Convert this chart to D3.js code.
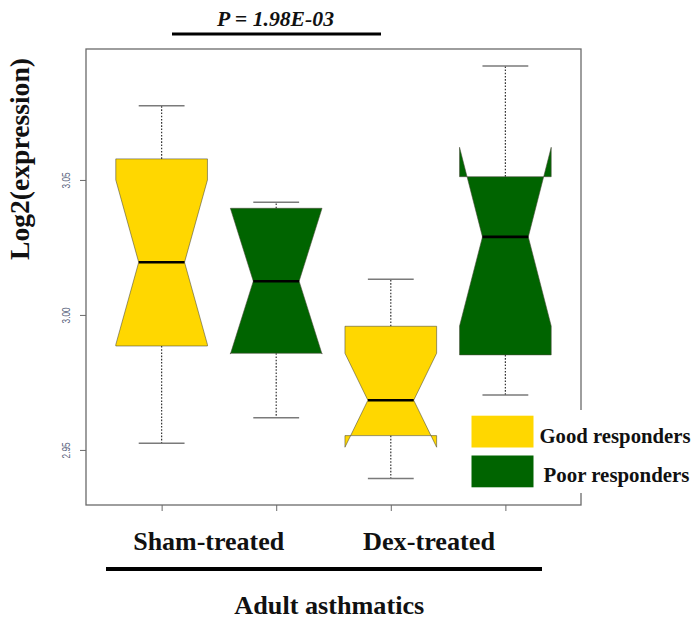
<!DOCTYPE html>
<html>
<head>
<meta charset="utf-8">
<script src="https://cdn.jsdelivr.net/npm/d3@7"></script>
<style>
  html, body { margin: 0; padding: 0; background: #fff; }
  svg { display: block; }
</style>
</head>
<body>
<svg id="chart" width="694" height="622"></svg>
<script>
// Treatment groups and responder classes
const groups = ["Sham-treated", "Dex-treated"];
const responders = ["Good responders", "Poor responders"];

// One box per group x responder, in drawing order
const boxGroup     = [0, 0, 1, 1];
const boxResponder = [0, 1, 0, 1];

// Five-number summaries (log2 expression)
const whiskerLow  = [2.9525, 2.9619, 2.9394, 2.9703];
const q1          = [2.9885, 2.9858, 2.9553, 2.9852];
const median      = [3.0195, 3.0125, 2.9684, 3.0289];
const q3          = [3.0578, 3.0395, 2.9958, 3.0512];
const whiskerHigh = [3.0775, 3.0417, 3.0132, 3.0922];

// Notch (median confidence interval) limits
const notchLow  = [2.9890, 2.9855, 2.9510, 2.9959];
const notchHigh = [3.0500, 3.0395, 2.9858, 3.0621];

// Axis ticks
const yTicks = [2.95, 3.00, 3.05];
const yTickLabels = ["2.95", "3.00", "3.05"];
const xTicks = [1, 2, 3, 4];

const pValueLabel = "P = 1.98E-03";
const yTitle = "Log2(expression)";
const xTitle = "Adult asthmatics";

const fillColors = ["#FFD700", "#006400"];
const serif = "'Liberation Serif', 'DejaVu Serif', serif";

const svg = d3.select("#chart");

// Plot region
const frame = { left: 86, right: 581, top: 49, bottom: 505 };

const x = d3.scaleLinear().domain([0.34, 4.66]).range([frame.left, frame.right]);
const y = d3.scaleLinear().domain([2.9296, 3.0985]).range([frame.bottom, frame.top]);

const boxHalf = (x(1.8) - x(1)) / 2;   // half of a 0.8-wide box

// Fit a text element to a target pixel width by scaling its font size
function fitWidth(sel, target) {
  const node = sel.node();
  const fs = parseFloat(sel.attr("font-size"));
  const w = node.getComputedTextLength();
  if (w > 0) sel.attr("font-size", (fs * target / w).toFixed(2));
  return sel;
}

// Frame
svg.append("rect")
  .attr("x", frame.left).attr("y", frame.top)
  .attr("width", frame.right - frame.left)
  .attr("height", frame.bottom - frame.top)
  .attr("fill", "none")
  .attr("stroke", "#6a6a6a")
  .attr("stroke-width", 1.3);

// Y axis
const yAxis = svg.append("g")
  .attr("transform", `translate(${frame.left},0)`)
  .call(d3.axisLeft(y).tickValues(yTicks).tickSize(6).tickFormat((d, i) => yTickLabels[i]));
yAxis.select(".domain").remove();
yAxis.selectAll(".tick line").attr("stroke", "#6a6a6a").attr("stroke-width", 1);
yAxis.selectAll(".tick text")
  .attr("transform", "rotate(-90)")
  .attr("x", 0).attr("y", -16.5)
  .attr("dy", 0)
  .attr("text-anchor", "middle")
  .attr("font-family", "'Liberation Sans Narrow', 'Liberation Sans', Arial, sans-serif")
  .attr("font-size", 11)
  .attr("fill", "#56607a")
  .attr("textLength", 16)
  .attr("lengthAdjust", "spacingAndGlyphs");

// X axis ticks (no labels on ticks)
const xAxis = svg.append("g")
  .attr("transform", `translate(0,${frame.bottom})`)
  .call(d3.axisBottom(x).tickValues(xTicks).tickSize(6).tickFormat(""));
xAxis.select(".domain").remove();
xAxis.selectAll(".tick line").attr("stroke", "#6a6a6a").attr("stroke-width", 1);

// Boxes
const boxes = d3.range(whiskerLow.length).map(i => ({
  pos: i + 1,
  lo: whiskerLow[i], q1: q1[i], med: median[i], q3: q3[i], hi: whiskerHigh[i],
  nlo: notchLow[i], nhi: notchHigh[i],
  color: fillColors[boxResponder[i]]
}));

const bg = svg.append("g").selectAll("g").data(boxes).join("g");

// Whiskers (dotted)
bg.append("line")
  .attr("x1", d => x(d.pos)).attr("x2", d => x(d.pos))
  .attr("y1", d => y(d.q3)).attr("y2", d => y(d.hi))
  .attr("stroke", "#333").attr("stroke-width", 1.2).attr("stroke-dasharray", "1.6,1.6");
bg.append("line")
  .attr("x1", d => x(d.pos)).attr("x2", d => x(d.pos))
  .attr("y1", d => y(d.q1)).attr("y2", d => y(d.lo))
  .attr("stroke", "#333").attr("stroke-width", 1.2).attr("stroke-dasharray", "1.6,1.6");

// Staples
[["lo"], ["hi"]].forEach(([k]) => {
  bg.append("line")
    .attr("x1", d => x(d.pos) - boxHalf / 2).attr("x2", d => x(d.pos) + boxHalf / 2)
    .attr("y1", d => y(d[k])).attr("y2", d => y(d[k]))
    .attr("stroke", "#7a7a7a").attr("stroke-width", 1.5);
});

// Notched box polygon
bg.append("path")
  .attr("d", d => {
    const c = x(d.pos), w = boxHalf;
    const pts = [
      [c - w, y(d.q1)], [c + w, y(d.q1)], [c + w, y(d.nlo)], [c + 0.5 * w, y(d.med)],
      [c + w, y(d.nhi)], [c + w, y(d.q3)], [c - w, y(d.q3)], [c - w, y(d.nhi)],
      [c - 0.5 * w, y(d.med)], [c - w, y(d.nlo)]
    ];
    return d3.line()(pts) + "Z";
  })
  .attr("fill", d => d.color)
  .attr("stroke", "#4a4a3a")
  .attr("stroke-width", 0.7)
  .attr("stroke-opacity", 0.8);

// Medians
bg.append("line")
  .attr("x1", d => x(d.pos) - boxHalf * 0.5).attr("x2", d => x(d.pos) + boxHalf * 0.5)
  .attr("y1", d => y(d.med)).attr("y2", d => y(d.med))
  .attr("stroke", "#000").attr("stroke-width", 2.6);

// Legend (white panel over the frame corner)
const legend = svg.append("g");
legend.append("rect")
  .attr("x", 466).attr("y", 410).attr("width", 228).attr("height", 83)
  .attr("fill", "#fff");
responders.forEach((r, i) => {
  legend.append("rect")
    .attr("x", 471.5).attr("y", 415.7 + i * 39.8)
    .attr("width", 62).attr("height", 31.8)
    .attr("fill", fillColors[i]);
  const t = legend.append("text")
    .attr("x", i === 0 ? 539.5 : 543.5).attr("y", i === 0 ? 443 : 481.5)
    .attr("font-family", serif).attr("font-weight", "bold")
    .attr("font-size", 17).attr("fill", "#111")
    .text(r);
  fitWidth(t, i === 0 ? 151 : 146);
});

// Significance bracket
svg.append("line")
  .attr("x1", 172).attr("x2", 381).attr("y1", 34).attr("y2", 34)
  .attr("stroke", "#000").attr("stroke-width", 3);
const pt = svg.append("text")
  .attr("x", 275.5).attr("y", 26)
  .attr("text-anchor", "middle")
  .attr("font-family", serif).attr("font-weight", "bold").attr("font-style", "italic")
  .attr("font-size", 19).attr("fill", "#111")
  .text(pValueLabel);
fitWidth(pt, 117);

// Y title
const yt = svg.append("text")
  .attr("transform", "translate(29,159) rotate(-90)")
  .attr("text-anchor", "middle")
  .attr("font-family", serif).attr("font-weight", "bold")
  .attr("font-size", 22).attr("fill", "#111")
  .text(yTitle);
fitWidth(yt, 202);

// Group labels
const groupCenters = [208.7, 429];
const groupWidths = [151, 132];
groups.forEach((g, i) => {
  const t = svg.append("text")
    .attr("x", groupCenters[i]).attr("y", 549.5)
    .attr("text-anchor", "middle")
    .attr("font-family", serif).attr("font-weight", "bold")
    .attr("font-size", 24).attr("fill", "#111")
    .text(g);
  fitWidth(t, groupWidths[i]);
});

// Group underline and overall label
svg.append("line")
  .attr("x1", 106).attr("x2", 542).attr("y1", 569).attr("y2", 569)
  .attr("stroke", "#000").attr("stroke-width", 4);
const xt = svg.append("text")
  .attr("x", 329.3).attr("y", 614)
  .attr("text-anchor", "middle")
  .attr("font-family", serif).attr("font-weight", "bold")
  .attr("font-size", 24).attr("fill", "#111")
  .text(xTitle);
fitWidth(xt, 190);
</script>
</body>
</html>
